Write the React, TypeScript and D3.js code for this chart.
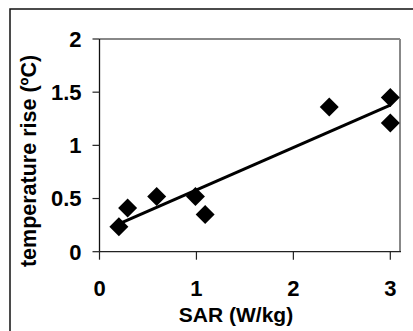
import React from 'react';
import * as d3 from 'd3';

// SAR (W/kg) vs temperature rise (ºC)
const sarValues = [0.2, 0.29, 0.59, 0.99, 1.09, 2.37, 3.0, 3.0];
const tempRise = [0.235, 0.41, 0.52, 0.52, 0.35, 1.36, 1.45, 1.21];
const xTicks = [0, 1, 2, 3];
const yTicks = [0, 0.5, 1, 1.5, 2];

const W = 413;
const H = 331;
const font = '"Liberation Sans", Arial, sans-serif';

const App = () => {
  const x = d3.scaleLinear().domain([0, 3.1]).range([99.5, 400]);
  const y = d3.scaleLinear().domain([0, 2]).range([251.7, 39]);

  // least-squares trend line
  const mx = d3.mean(sarValues) as number;
  const my = d3.mean(tempRise) as number;
  const sxy = d3.sum(sarValues, (v, i) => (v - mx) * (tempRise[i] - my));
  const sxx = d3.sum(sarValues, v => (v - mx) ** 2);
  const slope = sxy / sxx;
  const icept = my - slope * mx;
  const [x0, x1] = d3.extent(sarValues) as [number, number];
  const trend = d3.line<number>()
    .x(d => x(d))
    .y(d => y(icept + slope * d))([x0, x1]);

  const diamond = d3.symbol().type(d3.symbolSquare).size(180)();
  const points = sarValues.map((v, i) => ({ sar: v, t: tempRise[i] }));

  const [r0, r1] = x.range();
  const [b0, t0] = y.range();

  return (
    <svg width={W} height={H} style={{ position: 'absolute', left: 0, top: 0, background: '#fff' }}>
      <rect x={10} y={9} width={W + 10} height={H + 10} fill="none" stroke="#111" strokeWidth={1.5} />

      {/* plot area border */}
      <line x1={r0} x2={r1} y1={t0} y2={t0} stroke="#888" strokeWidth={2} />
      <line x1={r1} x2={r1} y1={t0} y2={b0} stroke="#888" strokeWidth={2} />

      {/* axes */}
      <line x1={r0} x2={r1 + 1} y1={b0} y2={b0} stroke="#222" strokeWidth={1.3} />
      <line x1={r0} x2={r0} y1={t0} y2={b0} stroke="#111" strokeWidth={1.3} />

      {yTicks.map(t => (
        <g key={'y' + t}>
          <line x1={r0 - 7} x2={r0} y1={y(t)} y2={y(t)} stroke="#222" strokeWidth={1.2} />
          <text x={81.5} y={y(t)} dy="0.36em" textAnchor="end" fontFamily={font} fontWeight="bold" fontSize={22}>
            {t}
          </text>
        </g>
      ))}
      {xTicks.map(t => (
        <g key={'x' + t}>
          <line x1={x(t)} x2={x(t)} y1={b0} y2={b0 + 8} stroke="#222" strokeWidth={1.2} />
          <text x={x(t)} y={295.5} textAnchor="middle" fontFamily={font} fontWeight="bold" fontSize={22}>
            {t}
          </text>
        </g>
      ))}

      <path d={trend ?? ''} fill="none" stroke="#000" strokeWidth={3} />

      {points.map((p, i) => (
        <path key={i} d={diamond ?? ''} transform={`translate(${x(p.sar)},${y(p.t)}) rotate(45)`} fill="#000" />
      ))}

      <text x={236} y={321.5} textAnchor="middle" fontFamily={font} fontWeight="bold" fontSize={21}>
        SAR (W/kg)
      </text>
      <text transform="translate(36,161) rotate(-90)" textAnchor="middle" fontFamily={font} fontWeight="bold" fontSize={21.5}>
        temperature rise (ºC)
      </text>
    </svg>
  );
};

export default App;
